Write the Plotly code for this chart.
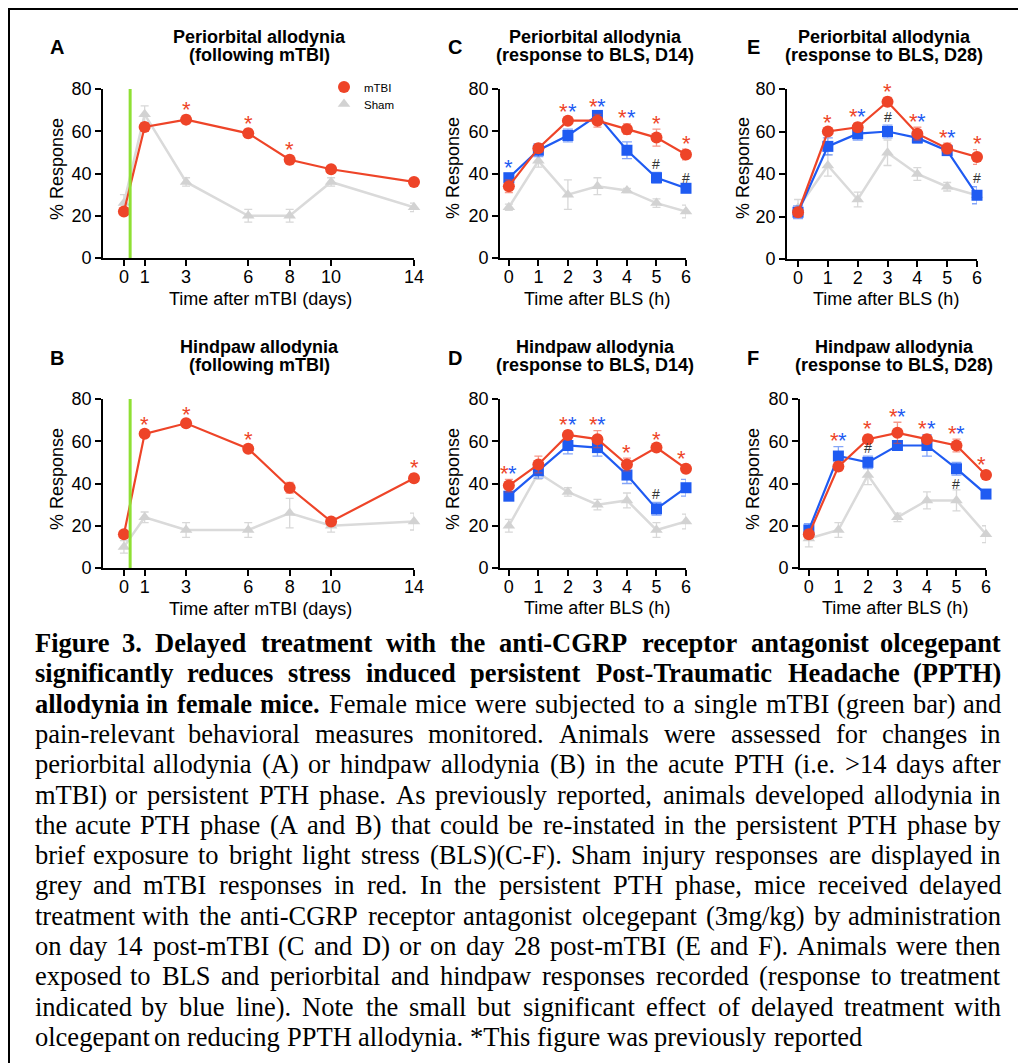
import plotly.graph_objects as go

W, H = 1026, 1063
OFF = 8  # the page body adds an 8px margin; reference pixels are shifted by this
RED = "#EE4428"
BLUE = "#1F5BF2"
GREEN = "#8FE034"
SANS = "Liberation Sans, Arial, sans-serif"
SERIF = "Liberation Serif, Times New Roman, serif"

# ---------------- data ----------------
days = [0, 1, 3, 6, 8, 10, 14]
hours = [0, 1, 2, 3, 4, 5, 6]
injury_day = 0.3

A_mtbi = [22, 62, 65.5, 59, 46.5, 42, 36]
A_mtbi_err = [1.5, 2, 2, 2, 2, 1.5, 1]
A_sham = [26, 68, 36, 20, 20, 36, 24]
A_sham_err = [4, 4, 2, 3, 3, 2, 2]
A_red_stars = [3, 6, 8]

B_mtbi = [16, 63.5, 68.5, 56.5, 38, 22, 42.5]
B_mtbi_err = [1.5, 1.5, 1.5, 1.5, 2.5, 1, 2]
B_sham = [10, 24, 18, 18, 26, 20, 22]
B_sham_err = [3, 2.5, 3.5, 3.5, 7, 3, 4]
B_red_stars = [1, 3, 6, 14]

C_mtbi = [34, 52, 65, 65, 61, 57, 49]
C_mtbi_err = [3, 2, 1.5, 3, 2.5, 4, 2.5]
C_olce = [38, 51, 58, 67.5, 51, 38, 33]
C_olce_err = [2, 3, 3, 1.5, 4, 2.5, 1]
C_sham = [24, 46, 30, 34, 32, 26, 22]
C_sham_err = [1.5, 3, 7, 4, 1, 2, 3]
C_red_stars = [2, 3, 4, 5, 6]
C_blue_stars = [0, 2, 3, 4]
C_hash_above = [5, 6]
C_hash_below = []

D_mtbi = [39, 49, 63, 61, 49, 57, 47]
D_mtbi_err = [3, 4, 2, 4, 3, 1, 2]
D_olce = [34, 46, 58, 57, 44, 28, 38]
D_olce_err = [2, 3.5, 4, 4, 4, 3, 4]
D_sham = [20, 45, 36, 30, 32, 18, 22]
D_sham_err = [3, 3, 2, 2.5, 3.5, 3.5, 3.5]
D_red_stars = [0, 2, 3, 4, 5, 6]
D_blue_stars = [0, 2, 3, 6]
D_hash_above = [5]
D_hash_below = []

E_mtbi = [22, 60, 62, 74, 59, 52, 48]
E_mtbi_err = [2, 1.5, 2, 2, 3, 2.5, 3.5]
E_olce = [22, 53, 59, 60, 57, 51, 30]
E_olce_err = [3, 4, 3, 3, 2.5, 2, 4]
E_sham = [24, 44, 28, 50, 40, 34, 30]
E_sham_err = [4, 5, 3.5, 6, 3, 2, 2]
E_red_stars = [1, 2, 3, 4, 5, 6]
E_blue_stars = [2, 4, 5]
E_hash_above = [3, 6]
E_hash_below = []

F_mtbi = [16, 48, 61, 64, 61, 58, 44]
F_mtbi_err = [2, 2, 2, 5, 2, 3, 2]
F_olce = [18, 53, 50, 58, 58, 47, 35]
F_olce_err = [3, 4.5, 3, 2, 5, 3, 2]
F_sham = [14, 18, 44, 24, 32, 32, 16]
F_sham_err = [4, 3.5, 4.5, 2, 4, 5, 4]
F_red_stars = [1, 2, 3, 4, 5, 6]
F_blue_stars = [1, 3, 4, 5, 6]
F_hash_above = [2]
F_hash_below = [5]

y_ticks = [0, 20, 40, 60, 80]
day_labels = ["0", "1", "3", "6", "8", "10", "14"]
hour_labels = ["0", "1", "2", "3", "4", "5", "6"]

titles = {
    "A": ("Periorbital allodynia", "(following mTBI)"),
    "B": ("Hindpaw allodynia", "(following mTBI)"),
    "C": ("Periorbital allodynia", "(response to BLS, D14)"),
    "D": ("Hindpaw allodynia", "(response to BLS, D14)"),
    "E": ("Periorbital allodynia", "(response to BLS, D28)"),
    "F": ("Hindpaw allodynia", "(response to BLS, D28)"),
}

caption_lines = [
    "Figure 3. Delayed treatment with the anti-CGRP receptor antagonist olcegepant",
    "significantly reduces stress induced persistent Post-Traumatic Headache (PPTH)",
    "allodynia in female mice. Female mice were subjected to a single mTBI (green bar) and",
    "pain-relevant behavioral measures monitored. Animals were assessed for changes in",
    "periorbital allodynia (A) or hindpaw allodynia (B) in the acute PTH (i.e. >14 days after",
    "mTBI) or persistent PTH phase. As previously reported, animals developed allodynia in",
    "the acute PTH phase (A and B) that could be re-instated in the persistent PTH phase by",
    "brief exposure to bright light stress (BLS)(C-F). Sham injury responses are displayed in",
    "grey and mTBI responses in red. In the persistent PTH phase, mice received delayed",
    "treatment with the anti-CGRP receptor antagonist olcegepant (3mg/kg) by administration",
    "on day 14 post-mTBI (C and D) or on day 28 post-mTBI (E and F). Animals were then",
    "exposed to BLS and periorbital and hindpaw responses recorded (response to treatment",
    "indicated by blue line). Note the small but significant effect of delayed treatment with",
    "olcegepant on reducing PPTH allodynia. *This figure was previously reported",
]
bold_word_count = 10 + 8 + 4  # leading bold words of the caption

# ---------------- helpers ----------------
def px(x):
    return (x - OFF) / W

def py(y):
    return 1 - (y - OFF) / H

fig = go.Figure()
annotations = []
shapes = []

panels = [
    ("A", 1, (103, 414), (89, 258), (-1.01, 14), days, day_labels, days,
     dict(red=(A_mtbi, A_mtbi_err), sham=(A_sham, A_sham_err), blue=None,
          rs=A_red_stars, bs=[], ha=[], hb=[]), "Time after mTBI (days)"),
    ("B", 2, (103, 414), (399, 568), (-1.01, 14), days, day_labels, days,
     dict(red=(B_mtbi, B_mtbi_err), sham=(B_sham, B_sham_err), blue=None,
          rs=B_red_stars, bs=[], ha=[], hb=[]), "Time after mTBI (days)"),
    ("C", 3, (500, 686), (89, 258), (-0.3, 6), hours, hour_labels, hours,
     dict(red=(C_mtbi, C_mtbi_err), sham=(C_sham, C_sham_err), blue=(C_olce, C_olce_err),
          rs=C_red_stars, bs=C_blue_stars, ha=C_hash_above, hb=C_hash_below), "Time after BLS (h)"),
    ("D", 4, (500, 686), (399, 568), (-0.3, 6), hours, hour_labels, hours,
     dict(red=(D_mtbi, D_mtbi_err), sham=(D_sham, D_sham_err), blue=(D_olce, D_olce_err),
          rs=D_red_stars, bs=D_blue_stars, ha=D_hash_above, hb=D_hash_below), "Time after BLS (h)"),
    ("E", 5, (787, 977), (89, 259), (-0.37, 6), hours, hour_labels, hours,
     dict(red=(E_mtbi, E_mtbi_err), sham=(E_sham, E_sham_err), blue=(E_olce, E_olce_err),
          rs=E_red_stars, bs=E_blue_stars, ha=E_hash_above, hb=E_hash_below), "Time after BLS (h)"),
    ("F", 6, (800, 986), (399, 568), (-0.3, 6), hours, hour_labels, hours,
     dict(red=(F_mtbi, F_mtbi_err), sham=(F_sham, F_sham_err), blue=(F_olce, F_olce_err),
          rs=F_red_stars, bs=F_blue_stars, ha=F_hash_above, hb=F_hash_below), "Time after BLS (h)"),
]

title_pos = {"A": (259, 37), "B": (259, 347), "C": (595, 37), "D": (595, 347),
             "E": (884, 37), "F": (894, 347)}
letter_pos = {"A": (57, 47), "B": (57, 358), "C": (455, 47), "D": (455, 358),
              "E": (753, 47), "F": (753, 358)}
ytitle_pos = {"A": (57, 169), "B": (57, 479), "C": (453, 168), "D": (453, 479),
              "E": (743, 168), "F": (753, 479)}
xtitle_pos = {"A": (260, 299), "B": (260, 609), "C": (597, 299), "D": (597, 608),
              "E": (886, 299), "F": (895, 608)}

layout_axes = {}
for key, i, xd, yd, xr, tv, tt, xs, s, xtitle in panels:
    xa = "x" if i == 1 else f"x{i}"
    ya = "y" if i == 1 else f"y{i}"
    xname = "xaxis" if i == 1 else f"xaxis{i}"
    yname = "yaxis" if i == 1 else f"yaxis{i}"
    common = dict(showline=True, linecolor="black", linewidth=1.6, ticks="outside",
                  ticklen=6, tickwidth=1.6, tickcolor="black", showgrid=False,
                  zeroline=False, automargin=False,
                  tickfont=dict(family=SANS, size=18, color="black"))
    layout_axes[xname] = dict(domain=[px(xd[0]), px(xd[1])], range=list(xr),
                              tickmode="array", tickvals=tv, ticktext=tt,
                              anchor=ya, ticklabelstandoff=-4, **common)
    layout_axes[yname] = dict(domain=[py(yd[1]), py(yd[0])], range=[0, 80],
                              tickmode="array", tickvals=y_ticks, anchor=xa, **common)

    if key in ("A", "B"):
        shapes.append(dict(type="line", xref=xa, yref=ya, x0=injury_day, x1=injury_day,
                           y0=0, y1=80, line=dict(color=GREEN, width=3)))

    sv, se = s["sham"]
    fig.add_trace(go.Scatter(x=xs, y=sv, xaxis=xa, yaxis=ya, mode="lines+markers",
                             line=dict(color="#DADADA", width=2.5),
                             marker=dict(symbol="triangle-up", size=11, color="#D2D2D2"),
                             error_y=dict(type="data", array=se, color="#D8D8D8",
                                          thickness=1.3, width=4),
                             cliponaxis=False, showlegend=False))
    if s["blue"] is not None:
        bv, be = s["blue"]
        fig.add_trace(go.Scatter(x=xs, y=bv, xaxis=xa, yaxis=ya, mode="lines+markers",
                                 line=dict(color=BLUE, width=2.2),
                                 marker=dict(symbol="square", size=11, color=BLUE),
                                 error_y=dict(type="data", array=be, color="rgba(31,91,242,0.55)",
                                              thickness=1.3, width=5),
                                 cliponaxis=False, showlegend=False))
    rv, re_ = s["red"]
    fig.add_trace(go.Scatter(x=xs, y=rv, xaxis=xa, yaxis=ya, mode="lines+markers",
                             line=dict(color=RED, width=2.2),
                             marker=dict(symbol="circle", size=12, color=RED),
                             error_y=dict(type="data", array=re_, color="rgba(238,68,40,0.55)",
                                          thickness=1.3, width=4),
                             cliponaxis=False, showlegend=False))

    def top_at(x):
        idx = xs.index(x)
        t = rv[idx] + re_[idx]
        if s["blue"] is not None:
            t = max(t, s["blue"][0][idx] + s["blue"][1][idx])
        return t
    dx = 0.14 if key not in ("A", "B") else 0.0
    for x in s["rs"]:
        off = -dx if x in s["bs"] else 0
        annotations.append(dict(x=x + off, y=top_at(x) + 2.9, xref=xa, yref=ya, text="*",
                                showarrow=False, font=dict(family=SANS, size=22, color=RED)))
    for x in s["bs"]:
        off = dx if x in s["rs"] else 0
        annotations.append(dict(x=x + off, y=top_at(x) + 2.9, xref=xa, yref=ya, text="*",
                                showarrow=False, font=dict(family=SANS, size=22, color=BLUE)))
    if s["blue"] is not None:
        bv, be = s["blue"]
        for x in s["ha"]:
            idx = xs.index(x)
            annotations.append(dict(x=x, y=bv[idx] + be[idx] + 4, xref=xa, yref=ya, text="#",
                                    showarrow=False, font=dict(family=SANS, size=14, color="#333333")))
        for x in s["hb"]:
            idx = xs.index(x)
            annotations.append(dict(x=x, y=bv[idx] - be[idx] - 4, xref=xa, yref=ya, text="#",
                                    showarrow=False, font=dict(family=SANS, size=14, color="#333333")))

    tx, ty = title_pos[key]
    t1, t2 = titles[key]
    annotations.append(dict(x=px(tx), y=py(ty), xref="paper", yref="paper", text=f"<b>{t1}</b>",
                            showarrow=False, xanchor="center", yanchor="middle",
                            font=dict(family=SANS, size=18, color="black")))
    annotations.append(dict(x=px(tx), y=py(ty + 18), xref="paper", yref="paper", text=f"<b>{t2}</b>",
                            showarrow=False, xanchor="center", yanchor="middle",
                            font=dict(family=SANS, size=18, color="black")))
    lx, ly = letter_pos[key]
    annotations.append(dict(x=px(lx), y=py(ly), xref="paper", yref="paper", text=f"<b>{key}</b>",
                            showarrow=False, xanchor="center", yanchor="middle",
                            font=dict(family=SANS, size=20, color="black")))
    yx, yy = ytitle_pos[key]
    annotations.append(dict(x=px(yx), y=py(yy), xref="paper", yref="paper", text="% Response",
                            showarrow=False, textangle=-90, xanchor="center", yanchor="middle",
                            font=dict(family=SANS, size=18, color="black")))
    xx, xy = xtitle_pos[key]
    annotations.append(dict(x=px(xx), y=py(xy), xref="paper", yref="paper", text=xtitle,
                            showarrow=False, xanchor="center", yanchor="middle",
                            font=dict(family=SANS, size=18, color="black")))

# legend entries (panel A), one legend per entry for tight spacing
fig.add_trace(go.Scatter(x=[None], y=[None], mode="markers", name="mTBI", legend="legend",
                         marker=dict(symbol="circle", size=12, color=RED)))
fig.add_trace(go.Scatter(x=[None], y=[None], mode="markers", name="Sham", legend="legend2",
                         marker=dict(symbol="triangle-up", size=11, color="#D2D2D2")))

# ---------------- caption (justified) ----------------
TR = dict(zip("abcdefghijklmnopqrstuvwxyz",
              [444, 500, 444, 500, 444, 333, 500, 500, 278, 278, 500, 278, 778, 500, 500, 500,
               500, 333, 389, 278, 500, 500, 722, 500, 500, 444]))
TR.update(zip("ABCDEFGHIJKLMNOPQRSTUVWXYZ",
              [722, 667, 667, 722, 611, 556, 722, 722, 333, 389, 722, 611, 889, 722, 722, 556,
               722, 667, 556, 611, 722, 722, 944, 722, 722, 611]))
TR.update({"(": 333, ")": 333, "-": 333, ".": 250, ",": 250, "/": 278, ">": 564, "*": 500,
           ":": 278, " ": 250})
TR.update({d: 500 for d in "0123456789"})
TB = dict(zip("abcdefghijklmnopqrstuvwxyz",
              [500, 556, 444, 556, 444, 333, 500, 556, 278, 333, 556, 278, 833, 556, 500, 556,
               556, 444, 389, 333, 556, 500, 722, 500, 500, 444]))
TB.update(zip("ABCDEFGHIJKLMNOPQRSTUVWXYZ",
              [722, 667, 722, 722, 667, 611, 778, 778, 389, 500, 778, 667, 944, 722, 778, 611,
               778, 722, 556, 667, 722, 722, 1000, 722, 722, 667]))
TB.update({"(": 333, ")": 333, "-": 333, ".": 250, ",": 250, " ": 250})
TB.update({d: 500 for d in "0123456789"})

CAP_FS = 26.5
CAP_L, CAP_R = 33, 1003
CAP_BASE0, CAP_STEP = 652, 30.3


def wwidth(word, bold):
    tbl = TB if bold else TR
    return sum(tbl.get(c, 500) for c in word) * CAP_FS / 1000


def esc(w):
    return w.replace("&", "&amp;").replace(">", "&gt;").replace("<", "&lt;")


word_counter = 0
for li, line in enumerate(caption_lines):
    words = line.split(" ")
    bolds = []
    for w in words:
        bolds.append(word_counter < bold_word_count)
        word_counter += 1
    yc = CAP_BASE0 + CAP_STEP * li - 9
    last = li == len(caption_lines) - 1
    widths = [wwidth(w, b) for w, b in zip(words, bolds)]
    if last:
        gap = TR[" "] * CAP_FS / 1000
    else:
        gap = (CAP_R - CAP_L - sum(widths)) / (len(words) - 1)
    x = CAP_L
    for k, (w, b, wd) in enumerate(zip(words, bolds, widths)):
        txt = f"<b>{esc(w)}</b>" if b else esc(w)
        if k == 0:
            xa_, xanc = x, "left"
        elif k == len(words) - 1 and not last:
            xa_, xanc = CAP_R, "right"
        else:
            xa_, xanc = x + wd / 2, "center"
        annotations.append(dict(x=px(xa_), y=py(yc), xref="paper", yref="paper", text=txt,
                                showarrow=False, xanchor=xanc, yanchor="middle",
                                font=dict(family=SERIF, size=CAP_FS, color="black")))
        x += wd + gap

# border around the whole figure (as far up/left as the page allows)
shapes.append(dict(type="rect", xref="paper", yref="paper", x0=px(OFF + 1), x1=px(1022),
                   y0=py(1080), y1=py(OFF + 1), line=dict(color="black", width=2)))

legend_common = dict(xanchor="left", yanchor="middle", bgcolor="rgba(0,0,0,0)",
                     font=dict(family=SANS, size=11.5, color="black"), itemwidth=30,
                     borderwidth=0)
fig.update_layout(
    width=W, height=H,
    margin=dict(l=0, r=0, t=0, b=0, pad=0, autoexpand=False),
    paper_bgcolor="white", plot_bgcolor="white",
    annotations=annotations, shapes=shapes,
    legend=dict(x=px(324), y=py(87), **legend_common),
    legend2=dict(x=px(324), y=py(104), **legend_common),
    **layout_axes,
)

fig.write_html("out.html")
